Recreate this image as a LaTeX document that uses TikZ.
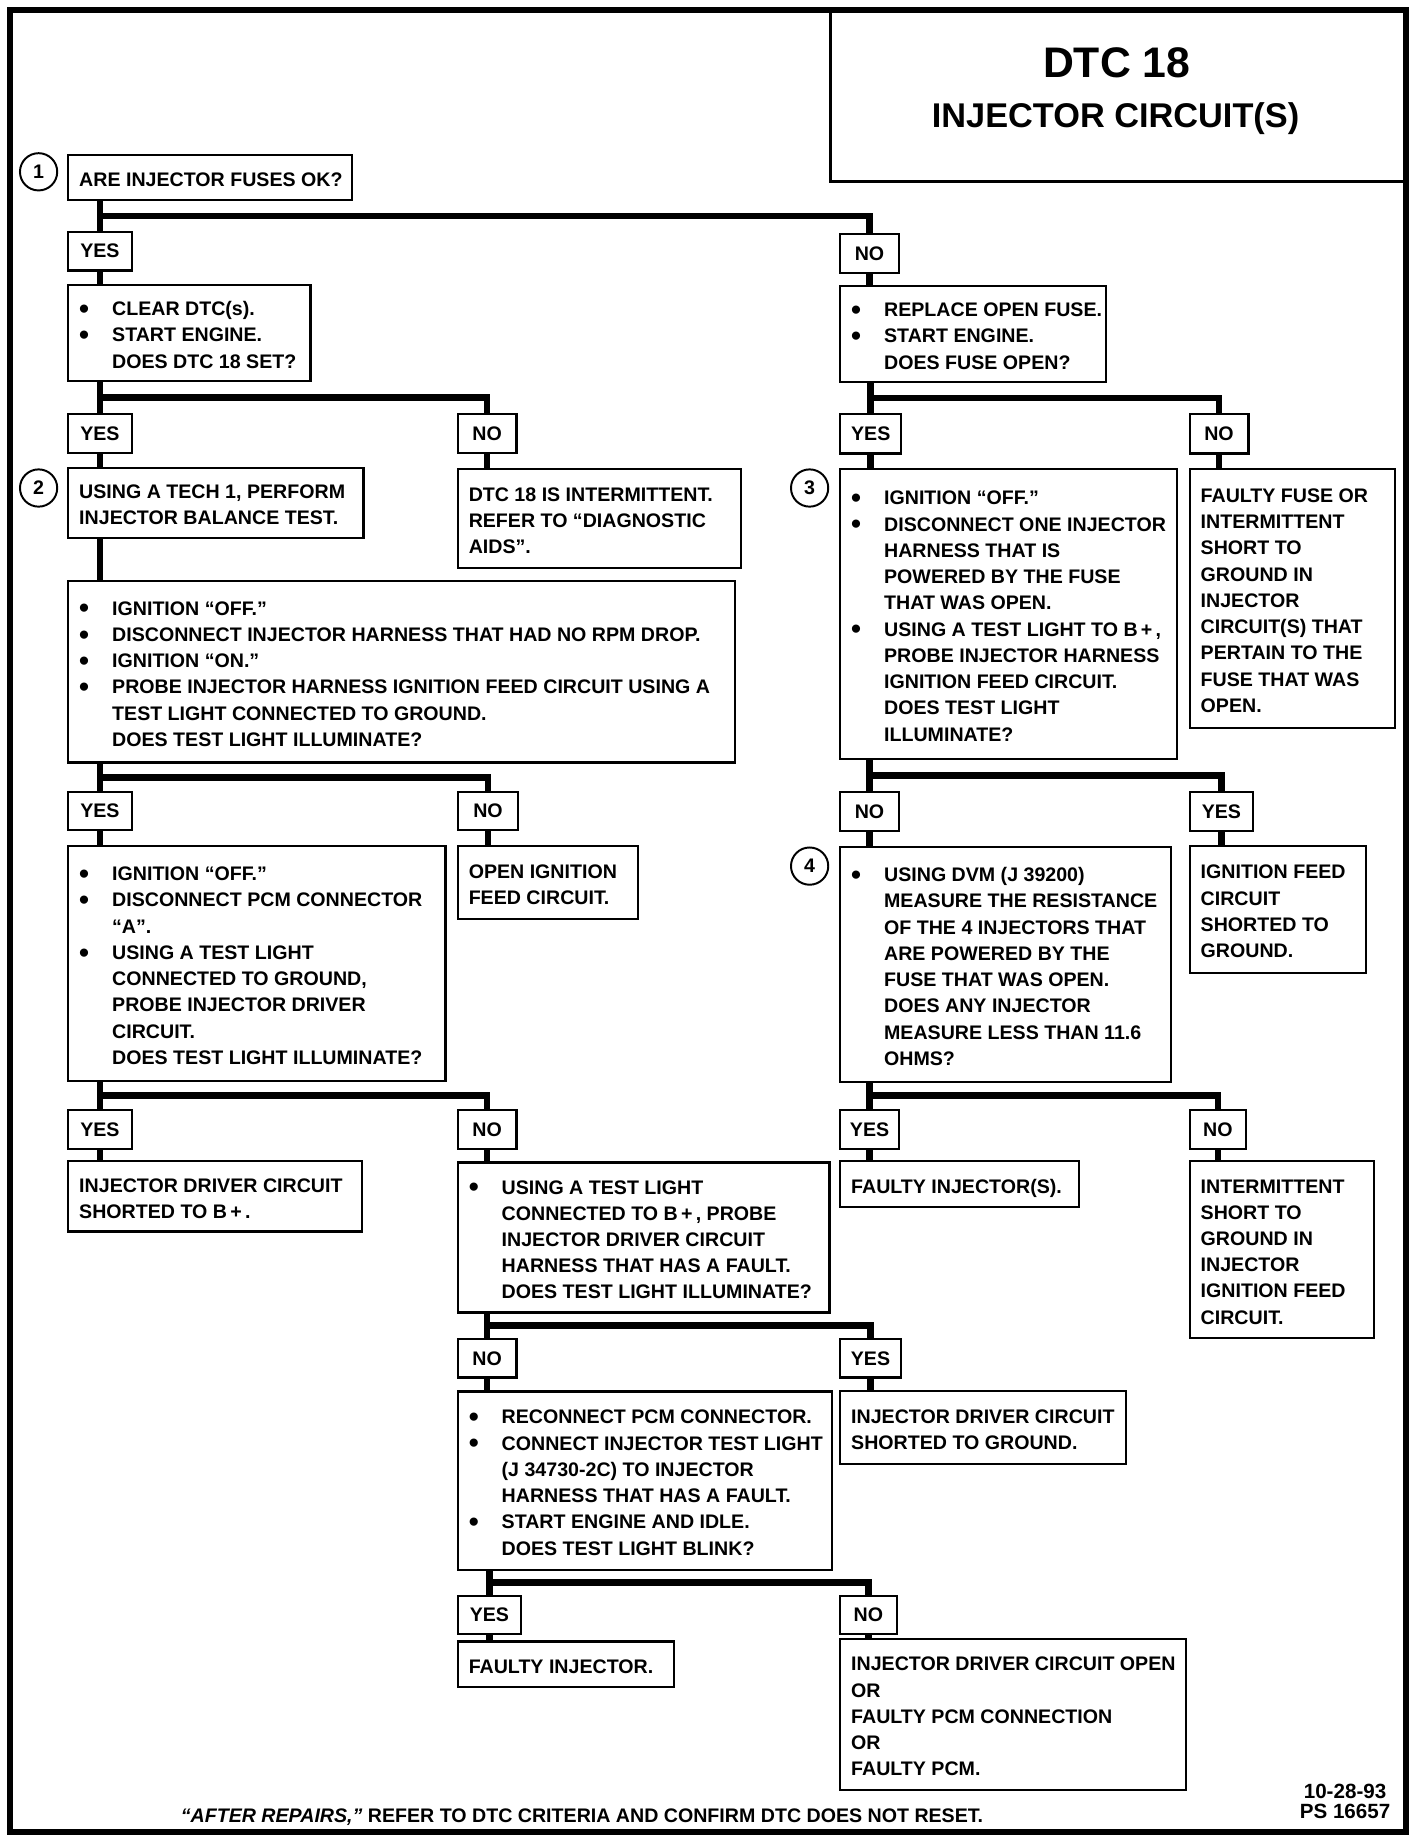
\documentclass[tikz,border=0pt]{standalone}
\usepackage{fontspec}
\setmainfont{Liberation Sans}
\usetikzlibrary{calc}
\newcommand\st{\rule[-3.12pt]{0pt}{13.38pt}}
\newcommand\bul{\raisebox{-1.4pt}{\scalebox{1.45}{\textbullet}}}
\newcommand\BL[1]{\st\makebox[16.8pt][l]{\bul}#1}
\newcommand\IL[1]{\st\hspace*{16.8pt}#1}
\newcommand\PL[1]{\st#1}
\newcommand\mybox[6]{%
 \node[box, minimum width={(#4-#2)*0.6pt}, minimum height={(#5-#3)*0.6pt}] (#1) at (#2,#3) {};
 \node[txt] (#1t) at ([xshift=6pt,yshift=-1pt]#1.west) {#6};}
\newcommand\mylab[6]{\node[lab, minimum width={(#4-#2)*0.6pt}, minimum height={(#5-#3)*0.6pt}] (#1) at (#2,#3) {#6};}
\newcommand\branch[4]{%
 \coordinate (#4a) at (#1.south -| #2.north);
 \coordinate (#4) at ($(#4a)!0.5!(#2.north)$);
 \draw[conn] (#4a) -- (#2.north);
 \draw[conn] (#4) -| (#3.north);}
\newcommand\down[2]{\draw[conn] (#1.south) -- (#1.south |- #2.north);}
\begin{document}
\begin{tikzpicture}[x=0.6pt,y=-0.6pt,
  every node/.style={font=\fontsize{10}{13.38}\selectfont\bfseries},
  box/.style={draw, line width=1.1pt, rectangle, inner sep=0pt, anchor=north west},
  lab/.style={draw, line width=1.1pt, rectangle, inner sep=0pt, anchor=north west},
  txt/.style={anchor=west, align=left, inner sep=0pt},
  conn/.style={line width=3.4pt},
  circ/.style={draw, circle, line width=1pt, minimum size=19pt, inner sep=0pt}]
\useasboundingbox (0,0) rectangle (1210,1567);
\draw[line width=3.2pt] (8.5,8.5) rectangle (1195,1557);
% title
\node[draw, line width=1.3pt, anchor=north west, inner sep=0pt, minimum width={490.5*0.6pt}, minimum height={144.5*0.6pt}] (title) at (704.5,8.5) {};
\node[anchor=base, font=\fontsize{21.8}{24}\selectfont\bfseries] (t1) at (949,65.7) {DTC 18};
\node[anchor=base, font=\fontsize{17.5}{20}\selectfont\bfseries] (t2) at (948,108) {INJECTOR CIRCUIT(S)};
% markers
\node[circ] (m1) at (32.8,146) {1};
\node[circ] (m2) at (32.8,414.7) {2};
\node[circ] (m3) at (688,414.7) {3};
\node[circ] (m4) at (688,736) {4};
% boxes
\mybox{q1}{57}{131}{298}{169}{\PL{ARE INJECTOR FUSES OK?}}
\mylab{yq}{57}{196}{111}{229}{YES}
\mylab{nq}{713}{198}{763}{231}{NO}
\mybox{a}{57}{241}{263}{323}{\BL{CLEAR DTC(s).}\\\BL{START ENGINE.}\\\IL{DOES DTC 18 SET?}}
\mybox{b}{713}{242}{939}{323.5}{\BL{REPLACE OPEN FUSE.}\\\BL{START ENGINE.}\\\IL{DOES FUSE OPEN?}}
\mylab{ya}{57}{351}{111}{384}{YES}
\mylab{na}{388}{351}{438}{384}{NO}
\mylab{yb}{713}{351}{765}{384.5}{YES}
\mylab{nb}{1010}{351}{1060}{384.5}{NO}
\mybox{c}{57}{396.5}{308}{456}{\PL{USING A TECH 1, PERFORM}\\\PL{INJECTOR BALANCE TEST.}}
\mybox{d}{388}{397.8}{629}{481.5}{\PL{DTC 18 IS INTERMITTENT.}\\\PL{REFER TO “DIAGNOSTIC}\\\PL{AIDS”.}}
\mybox{e}{713}{397.8}{999.6}{644}{\BL{IGNITION “OFF.”}\\\BL{DISCONNECT ONE INJECTOR}\\\IL{HARNESS THAT IS}\\\IL{POWERED BY THE FUSE}\\\IL{THAT WAS OPEN.}\\\BL{USING A TEST LIGHT TO B\,+\,,}\\\IL{PROBE INJECTOR HARNESS}\\\IL{IGNITION FEED CIRCUIT.}\\\IL{DOES TEST LIGHT}\\\IL{ILLUMINATE?}}
\mybox{f}{1010}{397.8}{1184.5}{617.4}{\PL{FAULTY FUSE OR}\\\PL{INTERMITTENT}\\\PL{SHORT TO}\\\PL{GROUND IN}\\\PL{INJECTOR}\\\PL{CIRCUIT(S) THAT}\\\PL{PERTAIN TO THE}\\\PL{FUSE THAT WAS}\\\PL{OPEN.}}
\mybox{g}{57}{492.8}{624}{647}{\BL{IGNITION “OFF.”}\\\BL{DISCONNECT INJECTOR HARNESS THAT HAD NO RPM DROP.}\\\BL{IGNITION “ON.”}\\\BL{PROBE INJECTOR HARNESS IGNITION FEED CIRCUIT USING A}\\\IL{TEST LIGHT CONNECTED TO GROUND.}\\\IL{DOES TEST LIGHT ILLUMINATE?}}
\mylab{yg}{57}{672}{111}{704.6}{YES}
\mylab{ng}{388}{672}{439.6}{704.6}{NO}
\mylab{ne}{713}{672}{763}{705}{NO}
\mylab{ye}{1010}{672}{1064}{705}{YES}
\mybox{h}{57}{718}{377.7}{917.6}{\BL{IGNITION “OFF.”}\\\BL{DISCONNECT PCM CONNECTOR}\\\IL{“A”.}\\\BL{USING A TEST LIGHT}\\\IL{CONNECTED TO GROUND,}\\\IL{PROBE INJECTOR DRIVER}\\\IL{CIRCUIT.}\\\IL{DOES TEST LIGHT ILLUMINATE?}}
\mybox{i}{388}{718}{541.5}{780}{\PL{OPEN IGNITION}\\\PL{FEED CIRCUIT.}}
\mybox{j}{713}{718.8}{994}{918.5}{\BL{USING DVM (J 39200)}\\\IL{MEASURE THE RESISTANCE}\\\IL{OF THE 4 INJECTORS THAT}\\\IL{ARE POWERED BY THE}\\\IL{FUSE THAT WAS OPEN.}\\\IL{DOES ANY INJECTOR}\\\IL{MEASURE LESS THAN 11.6}\\\IL{OHMS?}}
\mybox{k}{1010}{718}{1160}{825.6}{\PL{IGNITION FEED}\\\PL{CIRCUIT}\\\PL{SHORTED TO}\\\PL{GROUND.}}
\mylab{yh}{57}{942}{111}{975.6}{YES}
\mylab{nh}{388}{942}{438}{975.6}{NO}
\mylab{yj}{713}{942}{763}{975.6}{YES}
\mylab{nj}{1010}{942}{1058}{975.6}{NO}
\mybox{l}{57}{985.6}{307}{1045.6}{\PL{INJECTOR DRIVER CIRCUIT}\\\PL{SHORTED TO B\,+\,.}}
\mybox{m}{388}{987}{704}{1114.4}{\BL{USING A TEST LIGHT}\\\IL{CONNECTED TO B\,+\,, PROBE}\\\IL{INJECTOR DRIVER CIRCUIT}\\\IL{HARNESS THAT HAS A FAULT.}\\\IL{DOES TEST LIGHT ILLUMINATE?}}
\mybox{n}{713}{986}{916}{1025}{\PL{FAULTY INJECTOR(S).}}
\mybox{o}{1010}{986}{1166.7}{1136}{\PL{INTERMITTENT}\\\PL{SHORT TO}\\\PL{GROUND IN}\\\PL{INJECTOR}\\\PL{IGNITION FEED}\\\PL{CIRCUIT.}}
\mylab{nm}{388}{1137}{438}{1169.6}{NO}
\mylab{ym}{713}{1137}{764.6}{1169.6}{YES}
\mybox{p}{388}{1181.5}{706}{1333}{\BL{RECONNECT PCM CONNECTOR.}\\\BL{CONNECT INJECTOR TEST LIGHT}\\\IL{(J 34730-2C) TO INJECTOR}\\\IL{HARNESS THAT HAS A FAULT.}\\\BL{START ENGINE AND IDLE.}\\\IL{DOES TEST LIGHT BLINK?}}
\mybox{q}{713}{1181}{955.6}{1243}{\PL{INJECTOR DRIVER CIRCUIT}\\\PL{SHORTED TO GROUND.}}
\mylab{yp}{388}{1355}{442}{1387.6}{YES}
\mylab{np}{713}{1355}{761}{1387.6}{NO}
\mybox{r}{388}{1394}{571.5}{1433}{\PL{FAULTY INJECTOR.}}
\mybox{s}{713}{1392}{1007}{1520}{\PL{INJECTOR DRIVER CIRCUIT OPEN}\\\PL{OR}\\\PL{FAULTY PCM CONNECTION}\\\PL{OR}\\\PL{FAULTY PCM.}}
% connectors
\branch{q1}{yq}{nq}{jq}
\down{yq}{a}
\down{nq}{b}
\branch{a}{ya}{na}{ja}
\branch{b}{yb}{nb}{jb}
\down{ya}{c}
\down{na}{d}
\down{yb}{e}
\down{nb}{f}
\draw[conn] (c.south -| ya.south) -- (g.north -| ya.south);
\branch{g}{yg}{ng}{jg}
\branch{e}{ne}{ye}{je}
\down{yg}{h}
\down{ng}{i}
\down{ne}{j}
\down{ye}{k}
\branch{h}{yh}{nh}{jh}
\branch{j}{yj}{nj}{jj}
\down{yh}{l}
\down{nh}{m}
\down{yj}{n}
\down{nj}{o}
\branch{m}{nm}{ym}{jm}
\down{nm}{p}
\down{ym}{q}
\branch{p}{yp}{np}{jp}
\down{yp}{r}
\down{np}{s}
% footer
\node[anchor=base] (foot) at (494.6,1549) {{\itshape “AFTER REPAIRS,”} REFER TO DTC CRITERIA AND CONFIRM DTC DOES NOT RESET.};
\node[anchor=base, font=\fontsize{10.5}{12}\selectfont\bfseries] (date) at (1143,1528) {10-28-93};
\node[anchor=base, font=\fontsize{10.5}{12}\selectfont\bfseries] (ps) at (1143,1545) {PS 16657};
\end{tikzpicture}
\end{document}
